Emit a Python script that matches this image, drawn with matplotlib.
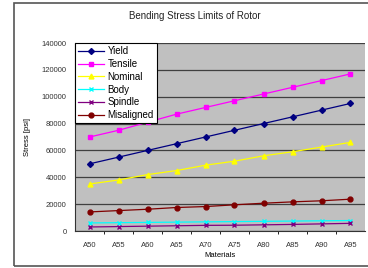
import matplotlib.pyplot as plt
from matplotlib.patches import Rectangle

materials = ['A50', 'A55', 'A60', 'A65', 'A70', 'A75', 'A80', 'A85', 'A90', 'A95']
yield_s = [50000, 55000, 60000, 65000, 70000, 75000, 80000, 85000, 90000, 95000]
tensile = [70000, 75000, 81000, 87000, 92000, 97000, 102000, 107000, 112000, 117000]
nominal = [35000, 38000, 42000, 45000, 49000, 52000, 56000, 59000, 62500, 66000]
body = [6000, 6200, 6400, 6600, 6800, 7000, 7200, 7400, 7600, 7800]
spindle = [3000, 3300, 3600, 3900, 4200, 4300, 4600, 4900, 5300, 5700]
misaligned = [14200, 15200, 16200, 17500, 18200, 19500, 20700, 21700, 22500, 23700]

plt.rcParams['font.family'] = ['Liberation Sans', 'DejaVu Sans']

fig = plt.figure(figsize=(3.68, 2.68), dpi=100)
# outer chart border
fig.patches.append(Rectangle((14 / 368, 2 / 268), 1.0, 263 / 268, transform=fig.transFigure,
                             fill=False, edgecolor='#555555', linewidth=1.2))

ax = fig.add_axes([75 / 368, 37 / 268, 290 / 368, 188 / 268])
ax.set_facecolor('#c0c0c0')

x = list(range(len(materials)))
series = [
    ('Yield', yield_s, '#000080', 'D', 3),
    ('Tensile', tensile, '#ff00ff', 's', 3.5),
    ('Nominal', nominal, '#ffff00', '^', 3.5),
    ('Body', body, '#00ffff', 'x', 3.5),
    ('Spindle', spindle, '#800080', 'x', 3.5),
    ('Misaligned', misaligned, '#800000', 'o', 3.5),
]
for name, vals, col, mk, ms in series:
    ax.plot(x, vals, color=col, marker=mk, markersize=ms, linewidth=0.9,
            markeredgewidth=1.0, label=name)

ax.set_xlim(-0.5, len(materials) - 0.5)
ax.set_ylim(0, 140000)
ax.set_yticks(range(0, 140001, 20000))
ax.set_yticklabels([str(v) for v in range(0, 140001, 20000)], fontsize=5.5, color='#333333')
ax.set_xticks(x)
ax.set_xticklabels(materials, fontsize=5.5, color='#333333')
ax.tick_params(axis='x', length=0, pad=8)
ax.tick_params(axis='y', length=0, pad=6)
ax.set_xticks([i + 0.5 for i in x[:-1]], minor=True)
ax.tick_params(axis='x', which='minor', length=2.5, direction='out')
ax.grid(axis='y', color='#404040', linewidth=0.9)
ax.set_axisbelow(True)
for side in ['top', 'right']:
    ax.spines[side].set_visible(False)
ax.spines['left'].set_color('#333333')
ax.spines['bottom'].set_color('#333333')

ax.set_xlabel('Materials', fontsize=5.5, labelpad=2)
ax.set_ylabel('Stress [psi]', fontsize=5.5, labelpad=8)
fig.text(195 / 368, 1 - 16 / 268, 'Bending Stress Limits of Rotor', ha='center', va='center',
         fontsize=7, color='#222222')

leg = ax.legend(loc='upper left', bbox_to_anchor=(0, 1), fontsize=7, frameon=True,
                fancybox=False, borderaxespad=0, handlelength=2.6, labelspacing=0.28,
                borderpad=0.35, handletextpad=0.4)
leg.get_frame().set_edgecolor('black')
leg.get_frame().set_linewidth(0.8)
leg.get_frame().set_alpha(1)

fig.savefig('out.png', dpi=100)
